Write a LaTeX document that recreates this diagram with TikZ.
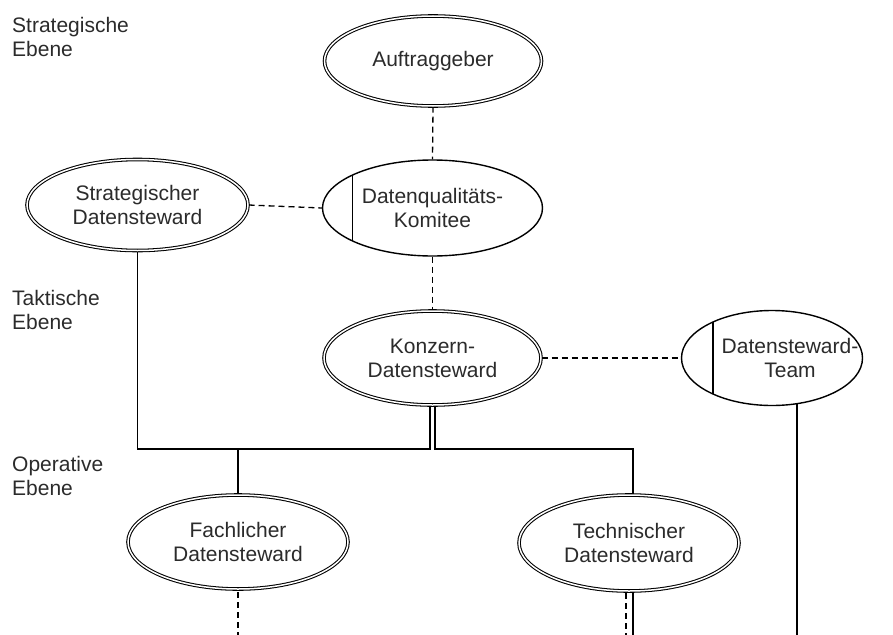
\documentclass[tikz,border=0pt]{standalone}
\usepackage{fontspec}
\setmainfont{Liberation Sans}
\usetikzlibrary{shapes.geometric,backgrounds,calc}
\definecolor{txt}{HTML}{2B2B2B}
\tikzset{
  every node/.style={font=\fontsize{21}{24}\selectfont, text=txt},
  role/.style={ellipse, draw=black, fill=white, double=white, line width=1.05pt,
               double distance=1.5pt, inner sep=0pt, align=center},
  board/.style={ellipse, draw=black, fill=white, line width=1.4pt, inner sep=0pt,
                align=center},
  divider/.style={path picture={\draw[line width=1.4pt]
      ([xshift=#1]path picture bounding box.center) ++(0,-80pt) -- ++(0,160pt);}},
  level/.style={anchor=north west, align=left, inner sep=0pt},
  conn/.style={draw=black, line width=1.4pt},
  dashconn/.style={draw=black, line width=1.3pt, dash pattern=on 6pt off 4pt},
}
\begin{document}
\begin{tikzpicture}[x=1pt, y=-1pt]
\useasboundingbox (0,0) rectangle (893,634);
\coordinate (bus) at (0,449);
\coordinate (floor) at (0,640);

% level captions
\node[level] (lstrat) at (12,17) {Strategische\\Ebene};
\node[level] (ltakt) at (12,290) {Taktische\\Ebene};
\node[level] (lop) at (12,456) {Operative\\Ebene};

% roles and boards
\node[role, minimum width=217pt, minimum height=90pt] (auf) at (433,61) {Auftraggeber};
\node[role, minimum width=221pt, minimum height=91pt] (strat) at (137.5,205) {Strategischer\\Datensteward};
\node[board, divider=-80pt, minimum width=220pt, minimum height=96pt] (kom) at (432.5,208) {Datenqualitäts-\\Komitee};
\node[role, minimum width=217pt, minimum height=94pt] (kon) at (432.5,358) {Konzern-\\Datensteward};
\node[board, divider=-59pt, minimum width=181pt, minimum height=95pt] (team) at (772,358) {};
\node[anchor=center, align=center, inner sep=0pt] (teamtxt) at (790,358) {Datensteward-\\Team};
\node[role, minimum width=220pt, minimum height=94pt] (fach) at (238,542) {Fachlicher\\Datensteward};
\node[role, minimum width=220pt, minimum height=96pt] (tech) at (629,543) {Technischer\\Datensteward};

\coordinate (kondl) at ([xshift=-2.5pt]kon.south);
\coordinate (kondr) at ([xshift=2.5pt]kon.south);
\coordinate (techin) at ([xshift=4pt]tech.north);
\coordinate (techdash) at ([xshift=-3pt]tech.center);
\coordinate (techline) at ([xshift=4pt]tech.center);
\coordinate (teamout) at ([xshift=25pt]team.center);

\begin{scope}[on background layer]
  % dashed links between the upper roles
  \draw[dashconn] (auf.south) -- (kom.north);
  \draw[dashconn] (strat.east) -- (kom.west);
  \draw[dashconn] (kom.south) -- (kon.north);
  \draw[dashconn] (kon.east) -- (team.west);
  % reporting lines below the corporate steward
  \draw[conn] (kondl) |- (strat.south |- bus) -- (strat.south);
  \draw[conn] (kondr) |- (techin |- bus) -- (techin);
  \draw[conn] (fach.north |- bus) -- (fach.north);
  % lines running out at the bottom
  \draw[dashconn] (fach.center) -- (fach.center |- floor);
  \draw[dashconn] (techdash) -- (techdash |- floor);
  \draw[conn] (techline) -- (techline |- floor);
  \draw[conn] (teamout) -- (teamout |- floor);
\end{scope}
\end{tikzpicture}
\end{document}
